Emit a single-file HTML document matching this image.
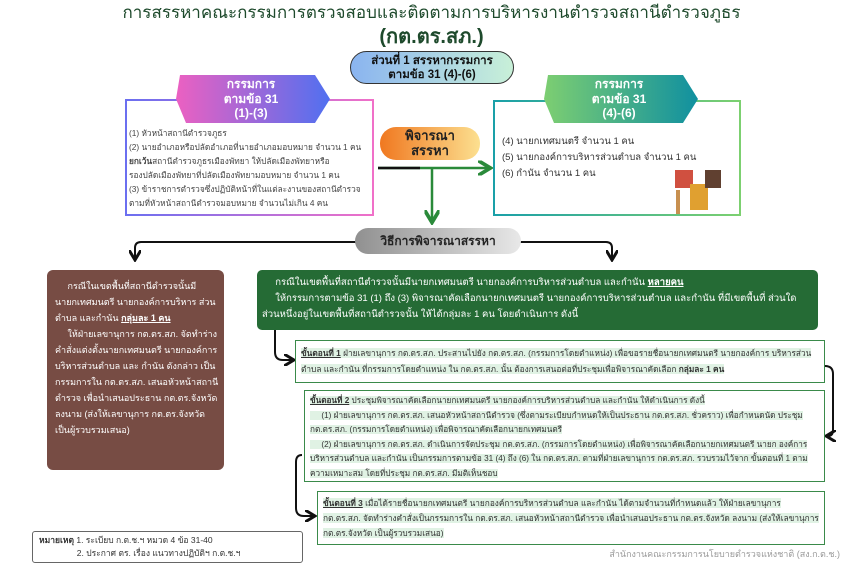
<!DOCTYPE html>
<html><head><meta charset="utf-8"><style>
*{margin:0;padding:0;box-sizing:border-box}
body{width:863px;height:571px;background:#fff;position:relative;overflow:hidden;font-family:"Liberation Sans",sans-serif;color:#333}
.a{position:absolute}
</style></head><body>
<div class="a" style="left:0;top:3px;width:863px;text-align:center;font-size:17px;line-height:20px;color:#1e4a2c">การสรรหาคณะกรรมการตรวจสอบและติดตามการบริหารงานตำรวจสถานีตำรวจภูธร</div>
<div class="a" style="left:0;top:25px;width:863px;text-align:center;font-size:20px;line-height:24px;font-weight:bold;color:#1e4a2c">(กต.ตร.สภ.)</div>
<div class="a" style="left:350px;top:51px;width:164px;height:33px;border:1.5px solid #333;border-radius:17px;background:linear-gradient(90deg,#8ab4f0,#c8f0d8);text-align:center;font-size:11.5px;font-weight:bold;line-height:14px;padding-top:2px;color:#111">ส่วนที่ 1 สรรหากรรมการ<br>ตามข้อ 31 (4)-(6)</div>

<div class="a" style="left:125px;top:99px;width:249px;height:117px;border:2px solid;border-image:linear-gradient(90deg,#6b6ff0,#f070c8) 1"></div>
<svg class="a" style="left:172px;top:75px" width="158" height="48"><defs><linearGradient id="g1"><stop offset="0" stop-color="#f060c0"/><stop offset="1" stop-color="#5070f0"/></linearGradient></defs><polygon points="0,0 143,0 158,24 143,48 14,48 4,24 8,0" fill="url(#g1)"/></svg>
<div class="a" style="left:172px;top:77px;width:158px;text-align:center;color:#fff;font-weight:bold;font-size:12px;line-height:14.5px">กรรมการ<br>ตามข้อ 31<br>(1)-(3)</div>
<div class="a" style="left:129px;top:126px;width:245px;font-size:8.3px;line-height:14px;color:#444;white-space:nowrap">(1) หัวหน้าสถานีตำรวจภูธร<br>(2) นายอำเภอหรือปลัดอำเภอที่นายอำเภอมอบหมาย จำนวน 1 คน<br><b>ยกเว้น</b>สถานีตำรวจภูธรเมืองพัทยา ให้ปลัดเมืองพัทยาหรือ<br>รองปลัดเมืองพัทยาที่ปลัดเมืองพัทยามอบหมาย จำนวน 1 คน<br>(3) ข้าราชการตำรวจซึ่งปฏิบัติหน้าที่ในแต่ละงานของสถานีตำรวจ<br>ตามที่หัวหน้าสถานีตำรวจมอบหมาย จำนวนไม่เกิน 4 คน</div>

<div class="a" style="left:380px;top:127px;width:100px;height:33px;border-radius:16px;background:linear-gradient(90deg,#f07820,#fce090);text-align:center;font-weight:bold;font-size:13px;line-height:14.5px;padding-top:2px;color:#222">พิจารณา<br>สรรหา</div>

<div class="a" style="left:493px;top:100px;width:248px;height:116px;border:2px solid;border-image:linear-gradient(90deg,#1aa0a8,#7cd070) 1"></div>
<svg class="a" style="left:540px;top:75px" width="158" height="48"><defs><linearGradient id="g2"><stop offset="0" stop-color="#80d070"/><stop offset="1" stop-color="#1090a0"/></linearGradient></defs><polygon points="0,0 143,0 158,24 143,48 14,48 4,24 8,0" fill="url(#g2)"/></svg>
<div class="a" style="left:540px;top:77px;width:158px;text-align:center;color:#fff;font-weight:bold;font-size:12px;line-height:14.5px">กรรมการ<br>ตามข้อ 31<br>(4)-(6)</div>
<div class="a" style="left:502px;top:134px;font-size:9.5px;line-height:16px;color:#333">(4) นายกเทศมนตรี จำนวน 1 คน<br>(5) นายกองค์การบริหารส่วนตำบล จำนวน 1 คน<br>(6) กำนัน จำนวน 1 คน</div>
<div class="a" style="left:675px;top:170px;width:18px;height:18px;background:#d05040"></div>
<div class="a" style="left:690px;top:184px;width:18px;height:26px;background:#e0a030"></div>
<div class="a" style="left:705px;top:170px;width:16px;height:18px;background:#604030"></div>
<div class="a" style="left:676px;top:190px;width:4px;height:24px;background:#c89050"></div>

<svg class="a" style="left:0;top:0" width="863" height="571" fill="none">
<defs><marker id="ah" markerWidth="6" markerHeight="6" refX="4" refY="3" orient="auto"><path d="M0,0 L5,3 L0,6" stroke="#2a8a3a" stroke-width="1.5" fill="none"/></marker>
<marker id="ak" markerWidth="6" markerHeight="6" refX="4" refY="3" orient="auto"><path d="M0,0 L5,3 L0,6" stroke="#111" stroke-width="1.5" fill="none"/></marker></defs>
<path d="M378,168 H488" stroke="#2a8a3a" stroke-width="2.5" marker-end="url(#ah)"/>
<path d="M378,168 H420" stroke="#111" stroke-width="2.5"/>
<path d="M432,168 V220" stroke="#2a8a3a" stroke-width="2.5" marker-end="url(#ah)"/>
<path d="M135,258 V248 Q135,242 141,242 H606 Q612,242 612,248 V258" stroke="#111" stroke-width="2" marker-end="url(#ak)"/>
<path d="M135,252 V258" stroke="#111" stroke-width="2" marker-end="url(#ak)"/>
<path d="M275,330 V352 Q275,360 283,360 H292" stroke="#111" stroke-width="2" marker-end="url(#ak)"/>
<path d="M825,366 Q833,366 833,374 V430 Q833,436 828,436" stroke="#111" stroke-width="2" marker-end="url(#ak)"/>
<path d="M302,455 Q296,455 296,462 V508 Q296,516 304,516 H313" stroke="#111" stroke-width="2" marker-end="url(#ak)"/>
</svg>

<div class="a" style="left:355px;top:228px;width:166px;height:26px;border-radius:13px;background:linear-gradient(90deg,#909090,#e8e8e8);text-align:center;font-weight:bold;font-size:12px;line-height:26px;color:#222">วิธีการพิจารณาสรรหา</div>

<div class="a" style="left:47px;top:270px;width:177px;height:200px;background:#774c44;border-radius:6px;color:#fff;font-size:9px;line-height:16px;padding:8px 5px 0 8px">&nbsp;&nbsp;&nbsp;&nbsp;&nbsp;กรณีในเขตพื้นที่สถานีตำรวจนั้นมี นายกเทศมนตรี นายกองค์การบริหาร ส่วนตำบล และกำนัน <b><u>กลุ่มละ 1 คน</u></b><br>&nbsp;&nbsp;&nbsp;&nbsp;&nbsp;ให้ฝ่ายเลขานุการ กต.ตร.สภ. จัดทำร่างคำสั่งแต่งตั้งนายกเทศมนตรี นายกองค์การบริหารส่วนตำบล และ กำนัน ดังกล่าว เป็นกรรมการใน กต.ตร.สภ. เสนอหัวหน้าสถานีตำรวจ เพื่อนำเสนอประธาน กต.ตร.จังหวัด ลงนาม (ส่งให้เลขานุการ กต.ตร.จังหวัด เป็นผู้รวบรวมเสนอ)</div>

<div class="a" style="left:257px;top:270px;width:561px;height:60px;background:#256b35;border-radius:5px;color:#fff;font-size:9.5px;line-height:16px;padding:5px 6px 0 5px">&nbsp;&nbsp;&nbsp;&nbsp;&nbsp;กรณีในเขตพื้นที่สถานีตำรวจนั้นมีนายกเทศมนตรี นายกองค์การบริหารส่วนตำบล และกำนัน <b><u>หลายคน</u></b><br>&nbsp;&nbsp;&nbsp;&nbsp;&nbsp;ให้กรรมการตามข้อ 31 (1) ถึง (3) พิจารณาคัดเลือกนายกเทศมนตรี นายกองค์การบริหารส่วนตำบล และกำนัน ที่มีเขตพื้นที่ ส่วนใดส่วนหนึ่งอยู่ในเขตพื้นที่สถานีตำรวจนั้น ให้ได้กลุ่มละ 1 คน โดยดำเนินการ ดังนี้</div>

<div class="a" style="left:295px;top:340px;width:530px;height:43px;border:1.5px solid #3a8a4a;padding:4px 5px;font-size:8.3px;line-height:16px;color:#333"><span style="background:#e0f2e4"><b><u>ขั้นตอนที่ 1</u></b> ฝ่ายเลขานุการ กต.ตร.สภ. ประสานไปยัง กต.ตร.สภ. (กรรมการโดยตำแหน่ง) เพื่อขอรายชื่อนายกเทศมนตรี นายกองค์การ บริหารส่วนตำบล และกำนัน ที่กรรมการโดยตำแหน่ง ใน กต.ตร.สภ. นั้น ต้องการเสนอต่อที่ประชุมเพื่อพิจารณาคัดเลือก <b>กลุ่มละ 1 คน</b></span></div>

<div class="a" style="left:304px;top:390px;width:521px;height:92px;border:1.5px solid #3a8a4a;padding:3px 5px;font-size:8.2px;line-height:14.5px;color:#333"><span style="background:#e0f2e4"><b><u>ขั้นตอนที่ 2</u></b> ประชุมพิจารณาคัดเลือกนายกเทศมนตรี นายกองค์การบริหารส่วนตำบล และกำนัน ให้ดำเนินการ ดังนี้<br>&nbsp;&nbsp;&nbsp;&nbsp;&nbsp;(1) ฝ่ายเลขานุการ กต.ตร.สภ. เสนอหัวหน้าสถานีตำรวจ (ซึ่งตามระเบียบกำหนดให้เป็นประธาน กต.ตร.สภ. ชั่วคราว) เพื่อกำหนดนัด ประชุม กต.ตร.สภ. (กรรมการโดยตำแหน่ง) เพื่อพิจารณาคัดเลือกนายกเทศมนตรี<br>&nbsp;&nbsp;&nbsp;&nbsp;&nbsp;(2) ฝ่ายเลขานุการ กต.ตร.สภ. ดำเนินการจัดประชุม กต.ตร.สภ. (กรรมการโดยตำแหน่ง) เพื่อพิจารณาคัดเลือกนายกเทศมนตรี นายก องค์การบริหารส่วนตำบล และกำนัน เป็นกรรมการตามข้อ 31 (4) ถึง (6) ใน กต.ตร.สภ. ตามที่ฝ่ายเลขานุการ กต.ตร.สภ. รวบรวมไว้จาก ขั้นตอนที่ 1 ตามความเหมาะสม โดยที่ประชุม กต.ตร.สภ. มีมติเห็นชอบ</span></div>

<div class="a" style="left:317px;top:491px;width:508px;height:54px;border:1.5px solid #3a8a4a;padding:4px 5px;font-size:8.3px;line-height:15px;color:#333"><span style="background:#e0f2e4"><b><u>ขั้นตอนที่ 3</u></b> เมื่อได้รายชื่อนายกเทศมนตรี นายกองค์การบริหารส่วนตำบล และกำนัน ได้ตามจำนวนที่กำหนดแล้ว ให้ฝ่ายเลขานุการ กต.ตร.สภ. จัดทำร่างคำสั่งเป็นกรรมการใน กต.ตร.สภ. เสนอหัวหน้าสถานีตำรวจ เพื่อนำเสนอประธาน กต.ตร.จังหวัด ลงนาม (ส่งให้เลขานุการ กต.ตร.จังหวัด เป็นผู้รวบรวมเสนอ)</span></div>

<div class="a" style="left:32px;top:531px;width:271px;height:32px;border:1.5px solid #666;border-radius:3px;padding:2px 6px;font-size:8.5px;line-height:13px;color:#333"><b>หมายเหตุ</b> 1. ระเบียบ ก.ต.ช.ฯ หมวด 4 ข้อ 31-40<br>&nbsp;&nbsp;&nbsp;&nbsp;&nbsp;&nbsp;&nbsp;&nbsp;&nbsp;&nbsp;&nbsp;&nbsp;&nbsp;&nbsp;&nbsp;&nbsp;2. ประกาศ ตร. เรื่อง แนวทางปฏิบัติฯ ก.ต.ช.ฯ</div>
<div class="a" style="left:520px;top:547px;width:320px;text-align:right;font-size:9px;color:#999">สำนักงานคณะกรรมการนโยบายตำรวจแห่งชาติ (สง.ก.ต.ช.)</div>
</body></html>
